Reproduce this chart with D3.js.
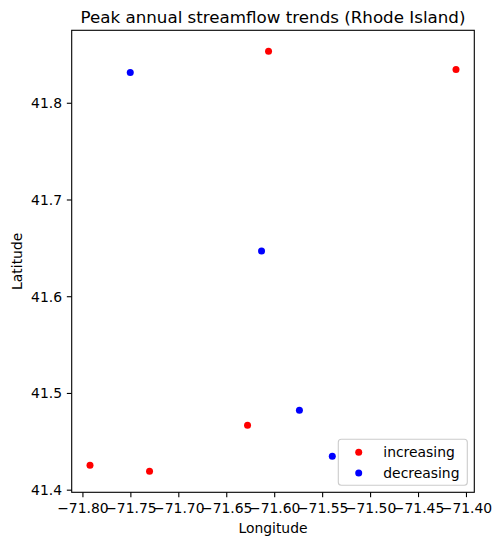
<!DOCTYPE html>
<html>
<head>
<meta charset="utf-8">
<script src="https://cdn.jsdelivr.net/npm/d3@7"></script>
<style>
  html, body { margin: 0; padding: 0; background: #fff; }
  svg { display: block; font-family: "DejaVu Sans", sans-serif; }
</style>
</head>
<body>
<svg id="chart" width="501" height="546"></svg>
<script>
const title = "Peak annual streamflow trends (Rhode Island)";
const xLabel = "Longitude";
const yLabel = "Latitude";
const seriesNames = ["increasing", "decreasing"];
const seriesColors = ["red", "blue"];

const incLon = [-71.6059, -71.4104, -71.6278, -71.7921, -71.7300];
const incLat = [41.8532, 41.8345, 41.4666, 41.4252, 41.4190];
const decLon = [-71.7501, -71.6132, -71.5737, -71.5394];
const decLat = [41.8314, 41.6467, 41.4821, 41.4345];

const xTicks = [-71.80, -71.75, -71.70, -71.65, -71.60, -71.55, -71.50, -71.45, -71.40];
const yTicks = [41.4, 41.5, 41.6, 41.7, 41.8];

const svg = d3.select("#chart");
const m = { left: 71.7, right: 474.3, top: 30.3, bottom: 492.3 };

const allLon = incLon.concat(decLon), allLat = incLat.concat(decLat);
const [xmin, xmax] = d3.extent(allLon), [ymin, ymax] = d3.extent(allLat);
const xp = (xmax - xmin) * 0.05, yp = (ymax - ymin) * 0.05;

const x = d3.scaleLinear().domain([xmin - xp, xmax + xp]).range([m.left, m.right]);
const y = d3.scaleLinear().domain([ymin - yp, ymax + yp]).range([m.bottom, m.top]);

const fs = 13.9;
const fmtX = v => d3.format(".2f")(v).replace("-", "\u2212");

// axes
const xAxis = svg.append("g").attr("transform", `translate(0,${m.bottom})`)
  .call(d3.axisBottom(x).tickValues(xTicks).tickFormat(fmtX).tickSizeInner(4.86).tickSizeOuter(0).tickPadding(4.86));
const yAxis = svg.append("g").attr("transform", `translate(${m.left},0)`)
  .call(d3.axisLeft(y).tickValues(yTicks).tickFormat(d3.format(".1f")).tickSizeInner(4.86).tickSizeOuter(0).tickPadding(4.86));
[xAxis, yAxis].forEach(a => {
  a.select(".domain").remove();
  a.selectAll(".tick line").attr("stroke", "#000").attr("stroke-width", 1.1);
  a.selectAll(".tick text").attr("fill", "#000").attr("font-size", fs).attr("font-family", "DejaVu Sans");
});
xAxis.selectAll(".tick text").attr("dy", null).attr("y", 20.6);
yAxis.selectAll(".tick text").attr("dy", "0.36em");

// frame
svg.append("rect").attr("x", m.left).attr("y", m.top)
  .attr("width", m.right - m.left).attr("height", m.bottom - m.top)
  .attr("fill", "none").attr("stroke", "#000").attr("stroke-width", 1.1);

// points
const r = 3.5;
const series = [
  { lon: incLon, lat: incLat, color: seriesColors[0] },
  { lon: decLon, lat: decLat, color: seriesColors[1] }
];
series.forEach(s => {
  svg.append("g").selectAll("circle").data(s.lon.map((d, i) => [d, s.lat[i]]))
    .join("circle")
    .attr("cx", d => x(d[0])).attr("cy", d => y(d[1]))
    .attr("r", r).attr("fill", s.color);
});

// title and labels
svg.append("text").attr("x", (m.left + m.right) / 2).attr("y", 22.7)
  .attr("text-anchor", "middle").attr("font-size", 16.7).attr("fill", "#000").text(title);
svg.append("text").attr("x", (m.left + m.right) / 2).attr("y", 532.8)
  .attr("text-anchor", "middle").attr("font-size", fs).attr("fill", "#000").text(xLabel);
svg.append("text").attr("transform", `translate(21.7,${(m.top + m.bottom) / 2}) rotate(-90)`)
  .attr("text-anchor", "middle").attr("font-size", fs).attr("fill", "#000").text(yLabel);

// legend
const lg = svg.append("g");
lg.append("rect").attr("x", 338.3).attr("y", 439.3).attr("width", 129).attr("height", 46)
  .attr("rx", 3).attr("fill", "#fff").attr("fill-opacity", 0.8)
  .attr("stroke", "#cccccc").attr("stroke-width", 1.1);
seriesNames.forEach((n, i) => {
  const cy = 452.3 + i * 20.7;
  lg.append("circle").attr("cx", 358.7).attr("cy", cy).attr("r", r).attr("fill", seriesColors[i]);
  lg.append("text").attr("x", 383.3).attr("y", cy).attr("dy", "0.36em")
    .attr("font-size", fs).attr("fill", "#000").text(n);
});
</script>
</body>
</html>
